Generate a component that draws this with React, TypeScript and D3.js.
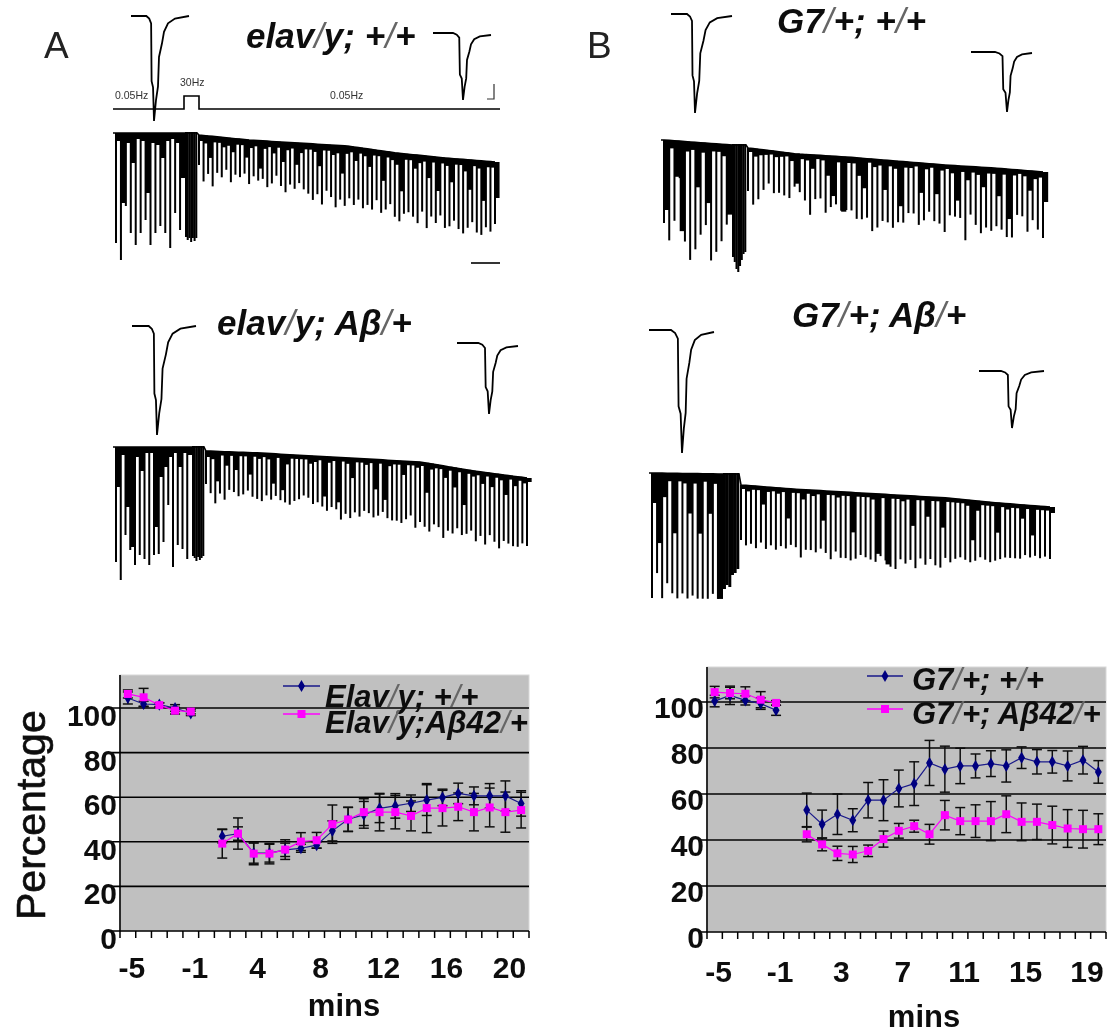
import { useEffect, useRef } from "react";
import * as d3 from "d3";

// bottom charts
const leftMins = [-5, -4, -3, -2, -1, 0, 1, 2, 3, 4, 5, 6, 7, 8, 9, 10, 11, 12, 13, 14, 15, 16, 17, 18, 19, 20];
const leftLabels = ["-5", "-1", "4", "8", "12", "16", "20"];
const elavCtrl = [104.5, 101.8, 101.5, 100, 97.6, null, 42.5, 43.7, 34.9, 34.9, 36.4, 37.1, 38.5, 44.9, 50.1, 52.1, 55, 56.1, 57.3, 58.7, 59.9, 61.7, 60.6, 60.6, 60.6, 57.2];
const elavCtrlErr = [2.7, 1.2, 0.8, 1.5, 1, 0, 3, 3, 4.5, 4, 3, 1.8, 1.4, 4.5, 5.4, 6, 6.4, 5.5, 3.7, 6.9, 3.7, 4.6, 4, 5.5, 6.7, 5.7];
const elavAb = [106.3, 104.8, 101.3, 98.8, 98.4, null, 39.2, 43.7, 34.7, 34.7, 36.5, 40.1, 40.7, 47.9, 50, 53.3, 53.3, 53.3, 51.6, 55.1, 55.1, 55.7, 53.3, 55.4, 53.3, 54.2];
const elavAbErr = [1.8, 4, 1, 1.5, 1, 0, 6.5, 7, 5, 4.6, 4.4, 4, 3.5, 8.6, 5.4, 6, 8.4, 7.5, 6.7, 11, 8, 6.2, 8.4, 8.7, 9, 8];

const rightMins = [-5, -4, -3, -2, -1, 0, 1, 2, 3, 4, 5, 6, 7, 8, 9, 10, 11, 12, 13, 14, 15, 16, 17, 18, 19, 20];
const rightLabels = ["-5", "-1", "3", "7", "11", "15", "19"];
const g7Ctrl = [100.4, 102.9, 100.7, 99.3, 96.4, null, 53, 46.9, 51.2, 48.6, 57.3, 57.3, 62.4, 64.5, 73.5, 70.8, 72.2, 72.2, 73.2, 72.2, 75.8, 74, 74, 72.2, 74.7, 69.6];
const g7CtrlErr = [2.5, 4, 2, 2.5, 2.2, 0, 7.4, 6.1, 8.8, 5, 7.7, 8.9, 8, 9.5, 9.8, 10, 7.7, 5.2, 5.6, 7, 4.7, 5.3, 4.9, 6.5, 6, 4.9];
const g7Ab = [104.3, 103.9, 103.6, 101, 99.6, null, 42.5, 38.1, 34.2, 33.7, 35.3, 40.4, 44, 46, 42.5, 50.8, 48.2, 48.2, 48.2, 51.2, 47.9, 47.9, 46.5, 45, 44.7, 44.7];
const g7AbErr = [2.5, 2.5, 3, 3.5, 1, 0, 3.3, 2.8, 3.1, 3.5, 2.5, 3.5, 3.2, 2.6, 4.3, 6.4, 5.9, 7.1, 8.5, 8, 8.2, 7.7, 8.2, 8.2, 8.2, 6.7];

// spike trains, amplitude of each evoked current
const a1Pre = [110, 127, 73, 100, 112, 100, 87, 112, 100, 93, 100, 115, 80, 97];
const a1PreFill = [8, 70, 10, 30, 6, 8, 60, 10, 12, 25, 8, 6, 10, 45];
const a1Tet = [105, 108, 106, 110, 106, 109, 106];
const a1Post = [30, 46, 38, 50, 36, 40, 32, 44, 36, 38, 34, 44, 36, 40, 38, 46, 42, 34, 44, 50, 42, 46, 40, 46, 50, 56, 50, 60, 46, 52, 62, 54, 60, 52, 58, 52, 60, 56, 60, 50, 62, 58, 52, 64, 68, 60, 58, 62, 68, 56, 72, 60, 66, 58, 70, 68, 62, 70, 74, 68, 62, 72, 74, 66, 70, 62];
const a1PostFill = [6, 8, 22, 6, 6, 10, 8, 14, 6, 6, 18, 8, 6, 28, 8, 6, 12, 6, 20, 8, 6, 22, 10, 6, 6, 8, 22, 6, 6, 10, 8, 28, 8, 6, 14, 6, 8, 18, 6, 6, 30, 6, 8, 12, 38, 6, 6, 14, 8, 6, 22, 6, 34, 6, 8, 24, 6, 6, 12, 30, 6, 8, 40, 6, 6, 36];

const b1Pre = [83, 100, 80, 37, 100, 118, 107, 92, 82, 117, 108, 97, 80];
const b1PreFill = [70, 8, 36, 90, 10, 8, 45, 10, 60, 8, 8, 12, 70];
const b1Tet = [113, 118, 125, 128, 122, 116, 110, 108];
const b1Post = [43, 56, 50, 40, 33, 42, 41, 43, 45, 33, 38, 46, 60, 44, 43, 57, 51, 48, 54, 53, 53, 61, 61, 59, 72, 68, 61, 62, 67, 61, 61, 51, 51, 62, 57, 48, 57, 59, 67, 50, 51, 52, 74, 48, 58, 66, 60, 63, 58, 61, 68, 68, 45, 46, 61, 49, 58, 66];
const b1PostFill = [4, 8, 6, 5, 4, 6, 5, 4, 8, 30, 5, 6, 14, 4, 5, 20, 40, 6, 55, 6, 6, 18, 30, 4, 8, 6, 30, 6, 8, 45, 6, 6, 4, 30, 6, 4, 30, 6, 4, 8, 35, 6, 14, 6, 8, 20, 6, 6, 28, 6, 50, 6, 4, 6, 20, 8, 6, 30];

const a2Pre = [115, 133, 88, 103, 118, 108, 112, 118, 108, 107, 95, 58, 120, 98, 102, 112];
const a2PreFill = [40, 8, 60, 100, 10, 24, 6, 6, 80, 30, 20, 10, 6, 20, 6, 8];
const a2Tet = [110, 112, 115, 111, 114, 112, 110];
const a2Post = [33, 42, 52, 42, 48, 38, 40, 44, 42, 38, 44, 46, 48, 42, 46, 42, 46, 48, 50, 46, 44, 40, 42, 48, 46, 50, 54, 50, 52, 62, 56, 60, 54, 58, 52, 54, 58, 56, 52, 58, 60, 60, 62, 58, 54, 66, 60, 64, 68, 60, 62, 72, 64, 66, 60, 66, 64, 60, 70, 64, 72, 62, 68, 74, 66, 68, 70, 70, 66, 68];
const a2PostFill = [6, 8, 30, 4, 14, 4, 18, 4, 4, 22, 4, 6, 4, 6, 30, 4, 36, 10, 4, 4, 4, 4, 8, 6, 4, 40, 6, 4, 45, 4, 6, 20, 4, 4, 6, 4, 30, 4, 40, 6, 4, 4, 14, 4, 4, 6, 4, 30, 6, 4, 4, 12, 4, 20, 4, 36, 4, 6, 4, 12, 4, 14, 4, 6, 20, 4, 10, 4, 6, 4];

const b2Pre = [125, 100, 125, 110, 120, 125, 120, 125, 122, 125, 125, 125, 120, 125];
const b2PreFill = [30, 70, 24, 8, 60, 8, 10, 40, 10, 60, 8, 40, 10, 125];
const b2Tet = [116, 112, 114, 102, 100, 96];
const b2Post = [55, 60, 58, 62, 56, 62, 58, 62, 58, 60, 56, 58, 68, 60, 60, 62, 58, 62, 68, 60, 66, 66, 68, 66, 62, 64, 66, 68, 62, 66, 72, 74, 64, 68, 64, 72, 62, 68, 62, 68, 70, 60, 64, 60, 58, 60, 62, 60, 56, 58, 60, 58, 56, 54, 54, 54, 54, 50, 52, 50, 52, 50, 52];
const b2PostFill = [4, 6, 4, 4, 18, 5, 4, 6, 4, 30, 4, 4, 10, 4, 6, 4, 30, 4, 4, 6, 4, 4, 40, 4, 4, 4, 6, 60, 4, 70, 4, 4, 6, 4, 30, 4, 4, 20, 4, 4, 30, 4, 4, 4, 4, 6, 40, 10, 4, 4, 4, 30, 4, 6, 4, 4, 14, 4, 30, 4, 4, 4, 6];

// single EPSC, percent of its peak against time
const epscTime = [0, 16, 19, 21, 21.5, 23, 24, 26, 28, 29, 32, 34, 38, 45, 59];
const epscAmp = [0, 0, 2.5, 7, 62, 68, 100, 80, 67, 39, 26, 15, 7, 2.5, 0];

const stimLabels = ["0.05Hz", "30Hz", "0.05Hz"];

const FONT = "'Liberation Sans', Arial, sans-serif";

function addSlashText(sel, str, x, y, size) {
  // the slashes came out thin and grey in the original scan
  const t = sel.append("text")
    .attr("x", x).attr("y", y)
    .attr("font-family", FONT)
    .attr("font-size", size)
    .attr("font-style", "italic")
    .attr("font-weight", 700)
    .attr("fill", "#111");
  str.split(/(\/)/).forEach((part) => {
    const s = t.append("tspan").text(part);
    if (part === "/") s.attr("fill", "#666").attr("font-weight", 400);
  });
}

function drawEpsc(svg, x0, x1, tipX, base, tipY, endY) {
  const x = d3.scaleLinear().domain([0, 24, 59]).range([x0, tipX, x1]);
  const y = d3.scaleLinear().domain([0, 100]).range([base, tipY]);
  const end = endY - base;
  const line = d3.line()
    .x((_, i) => x(epscTime[i]))
    .y((d, i) => y(d) + (i > 6 ? (end * (i - 6)) / 8 : 0));
  svg.append("path")
    .attr("d", line(epscAmp))
    .attr("fill", "none")
    .attr("stroke", "#000")
    .attr("stroke-width", 1.8);
}

function drawTrain(svg, o) {
  const g = svg.append("g").attr("fill", "#000");
  const preX = d3.scaleLinear().domain([0, o.pre.length]).range([o.x0 + 3, o.tet0]);
  const preY = d3.scaleLinear().domain([0, o.pre.length]).range(o.preBase);
  const tetX = d3.scaleLinear().domain([0, o.tet.length]).range([o.tet0, o.tet1]);
  const postX = d3.scaleLinear().domain([0, o.post.length - 1]).range([o.tet1 + 2, o.x1 - 1]);
  const postY = d3.scaleLinear()
    .domain(o.drift.map((_, i) => (i * (o.post.length - 1)) / (o.drift.length - 1)))
    .range(o.drift);

  const spikes = (data, fills, xf, yf, w) => {
    g.selectAll(null).data(data).join("rect")
      .attr("x", (_, i) => xf(i) - w / 2)
      .attr("y", (_, i) => yf(i))
      .attr("width", w)
      .attr("height", (d) => d);
    if (fills) {
      g.selectAll(null).data(fills).join("rect")
        .attr("x", (_, i) => xf(i))
        .attr("y", (_, i) => yf(i))
        .attr("width", (_, i) => xf(i + 1) - xf(i))
        .attr("height", (d) => d);
    }
  };
  spikes(o.pre, o.preFill, preX, preY, 2);
  const tetBase = o.preBase[1] - 1;
  g.selectAll(null).data(o.tet).join("rect")
    .attr("x", (_, i) => tetX(i))
    .attr("y", tetBase)
    .attr("width", (_, i) => tetX(i + 1) - tetX(i) + 0.3)
    .attr("height", (d) => d);
  spikes(o.post, o.postFill, postX, postY, 2);

  // top edge of the trace
  const top = o.pre.map((_, i) => [preX(i), preY(i)])
    .concat([[o.tet0, o.preBase[1]], [o.tet1, o.preBase[1]]])
    .concat(o.post.map((_, i) => [postX(i), postY(i)]));
  svg.append("path")
    .attr("d", d3.line()([[o.x0, o.preBase[0]], ...top]))
    .attr("fill", "none").attr("stroke", "#000").attr("stroke-width", 1.6);
}

function drawChart(svg, o) {
  const g = svg.append("g");
  const x = d3.scaleBand().domain(o.mins.map(String)).range([o.left, o.right]).padding(0);
  const y = d3.scaleLinear().domain([0, 100]).range([o.zero, o.hundred]);
  const cx = (i) => x(String(o.mins[i])) + x.bandwidth() / 2;

  g.append("rect")
    .attr("x", o.left).attr("y", o.top)
    .attr("width", o.right - o.left).attr("height", o.zero - o.top)
    .attr("fill", "#c0c0c0").attr("stroke", "#d8d8d8");

  const gridVals = [0, 20, 40, 60, 80, 100];
  g.selectAll(null).data(gridVals).join("line")
    .attr("x1", o.left - 8).attr("x2", o.right)
    .attr("y1", (d) => y(d)).attr("y2", (d) => y(d))
    .attr("stroke", "#000").attr("stroke-width", 1.6);
  g.selectAll(null).data(gridVals).join("text")
    .attr("x", o.left - 3)
    .attr("y", (d) => y(d) + o.labelDrop)
    .attr("text-anchor", "end")
    .attr("font-family", FONT).attr("font-size", 30).attr("font-weight", 700)
    .attr("fill", "#111")
    .text((d) => d);

  g.append("line")
    .attr("x1", o.left).attr("x2", o.left).attr("y1", o.top).attr("y2", o.zero)
    .attr("stroke", "#000").attr("stroke-width", 1.6);
  const tickX = d3.range(o.mins.length + 1).map((i) => o.left + i * x.bandwidth());
  g.selectAll(null).data(tickX).join("line")
    .attr("x1", (d) => d).attr("x2", (d) => d)
    .attr("y1", o.zero).attr("y2", o.zero + 7)
    .attr("stroke", "#000").attr("stroke-width", 1.5);
  g.selectAll(null).data(o.labels).join("text")
    .attr("x", (_, i) => cx(i * 4) + 4)
    .attr("y", o.tickBase)
    .attr("text-anchor", "middle")
    .attr("font-family", FONT).attr("font-size", 30).attr("font-weight", 700)
    .attr("fill", "#111")
    .text((d) => d);

  g.append("text")
    .attr("x", o.minsX).attr("y", o.minsY)
    .attr("text-anchor", "middle")
    .attr("font-family", FONT).attr("font-size", 31).attr("font-weight", 700)
    .attr("fill", "#111")
    .text("mins");

  const errorBars = (vals, errs) => {
    const pts = vals.map((v, i) => ({ v, e: errs[i], i })).filter((d) => d.v !== null);
    const eg = g.append("g").attr("stroke", "#111").attr("stroke-width", 1.5);
    eg.selectAll(null).data(pts).join("line")
      .attr("x1", (d) => cx(d.i)).attr("x2", (d) => cx(d.i))
      .attr("y1", (d) => y(d.v - d.e)).attr("y2", (d) => y(d.v + d.e));
    [-1, 1].forEach((sign) => {
      eg.selectAll(null).data(pts).join("line")
        .attr("x1", (d) => cx(d.i) - 5).attr("x2", (d) => cx(d.i) + 5)
        .attr("y1", (d) => y(d.v + sign * d.e)).attr("y2", (d) => y(d.v + sign * d.e));
    });
  };
  errorBars(o.ctrl, o.ctrlErr);
  errorBars(o.ab, o.abErr);

  const line = d3.line()
    .defined((d) => d !== null)
    .x((_, i) => cx(i))
    .y((d) => y(d));
  const diamond = d3.symbol().type(d3.symbolDiamond).size(42);

  g.append("path").attr("d", line(o.ctrl)).attr("fill", "none")
    .attr("stroke", "#1a1a8a").attr("stroke-width", 1.2);
  g.selectAll(null).data(o.ctrl.map((v, i) => ({ v, i })).filter((d) => d.v !== null)).join("path")
    .attr("d", diamond)
    .attr("transform", (d) => `translate(${cx(d.i)},${y(d.v)})`)
    .attr("fill", "#000080");

  g.append("path").attr("d", line(o.ab)).attr("fill", "none")
    .attr("stroke", "#ff00ff").attr("stroke-width", 1.2);
  g.selectAll(null).data(o.ab.map((v, i) => ({ v, i })).filter((d) => d.v !== null)).join("rect")
    .attr("x", (d) => cx(d.i) - 4).attr("y", (d) => y(d.v) - 4)
    .attr("width", 8).attr("height", 8)
    .attr("fill", "#ff00ff");

  // legend
  g.append("line").attr("x1", o.legX0).attr("x2", o.legX1).attr("y1", o.leg1Y).attr("y2", o.leg1Y)
    .attr("stroke", "#1a1a8a").attr("stroke-width", 1.5);
  g.append("path").attr("d", diamond)
    .attr("transform", `translate(${(o.legX0 + o.legX1) / 2},${o.leg1Y})`).attr("fill", "#000080");
  g.append("line").attr("x1", o.legX0).attr("x2", o.legX1).attr("y1", o.leg2Y).attr("y2", o.leg2Y)
    .attr("stroke", "#ff00ff").attr("stroke-width", 1.5);
  g.append("rect").attr("x", (o.legX0 + o.legX1) / 2 - 4).attr("y", o.leg2Y - 4)
    .attr("width", 8).attr("height", 8).attr("fill", "#ff00ff");
  addSlashText(g, o.name1, o.legText, o.text1Y, 31);
  addSlashText(g, o.name2, o.legText, o.text2Y, 31);
}

export default function App() {
  const ref = useRef(null);

  useEffect(() => {
    const root = d3.select(ref.current);
    root.selectAll("*").remove();
    root.append("defs").append("filter").attr("id", "scan")
      .attr("x", 0).attr("y", 0).attr("width", 1110).attr("height", 1034)
      .attr("filterUnits", "userSpaceOnUse")
      .append("feGaussianBlur").attr("stdDeviation", 0.7);
    const svg = root.append("g").attr("filter", "url(#scan)");

    // panel letters
    [["A", 44], ["B", 587]].forEach(([t, x]) => {
      svg.append("text").attr("x", x).attr("y", 58)
        .attr("font-family", FONT).attr("font-size", 37).attr("fill", "#222").text(t);
    });

    addSlashText(svg, "elav/y; +/+", 246, 48, 35);
    addSlashText(svg, "elav/y; Aβ/+", 217, 335, 35);
    addSlashText(svg, "G7/+; +/+", 777, 33, 35);
    addSlashText(svg, "G7/+; Aβ/+", 792, 327, 35);

    drawEpsc(svg, 131, 189, 154, 16, 121, 16);
    drawEpsc(svg, 433, 491, 463, 33, 100, 35);
    drawEpsc(svg, 671, 732, 695, 14, 113, 16);
    drawEpsc(svg, 971, 1032, 1007, 52, 112, 53);
    drawEpsc(svg, 132, 196, 157, 326, 435, 326);
    drawEpsc(svg, 457, 518, 489, 343, 414, 346);
    drawEpsc(svg, 649, 714, 682, 330, 453, 332);
    drawEpsc(svg, 979, 1044, 1012, 371, 428, 371);

    // stimulation protocol
    svg.append("path")
      .attr("d", d3.line()([[113, 109], [184, 109], [184, 96], [199, 96], [199, 109], [500, 109]]))
      .attr("fill", "none").attr("stroke", "#000").attr("stroke-width", 1.6);
    [[115, 99], [180, 86], [330, 99]].forEach(([x, y], i) => {
      svg.append("text").attr("x", x).attr("y", y)
        .attr("font-family", FONT).attr("font-size", 10.5).attr("fill", "#333").text(stimLabels[i]);
    });
    svg.append("path")
      .attr("d", d3.line()([[494, 84], [494, 99], [487, 99]]))
      .attr("fill", "none").attr("stroke", "#333").attr("stroke-width", 1.2);
    svg.append("path")
      .attr("d", d3.line()([[471, 263], [500, 263]]))
      .attr("fill", "none").attr("stroke", "#000").attr("stroke-width", 1.6);

    drawTrain(svg, { x0: 113, tet0: 185, tet1: 197, x1: 496, preBase: [133, 133], drift: [135, 140, 143, 146, 153, 158, 162], pre: a1Pre, preFill: a1PreFill, tet: a1Tet, post: a1Post, postFill: a1PostFill });
    drawTrain(svg, { x0: 661, tet0: 732, tet1: 746, x1: 1044, preBase: [140, 145], drift: [148, 154, 157, 161, 165, 168, 172], pre: b1Pre, preFill: b1PreFill, tet: b1Tet, post: b1Post, postFill: b1PostFill });
    drawTrain(svg, { x0: 113, tet0: 192, tet1: 204, x1: 528, preBase: [447, 447], drift: [451, 453, 456, 459, 462, 471, 478], pre: a2Pre, preFill: a2PreFill, tet: a2Tet, post: a2Post, postFill: a2PostFill });
    drawTrain(svg, { x0: 649, tet0: 723, tet1: 739, x1: 1051, preBase: [473, 474], drift: [485, 489, 492, 495, 498, 503, 507], pre: b2Pre, preFill: b2PreFill, tet: b2Tet, post: b2Post, postFill: b2PostFill });

    drawChart(svg, {
      left: 120, right: 529, top: 675, zero: 931, hundred: 708, labelDrop: 18, tickBase: 978,
      minsX: 344, minsY: 1016, mins: leftMins, labels: leftLabels,
      ctrl: elavCtrl, ctrlErr: elavCtrlErr, ab: elavAb, abErr: elavAbErr,
      legX0: 283, legX1: 320, leg1Y: 686, leg2Y: 714, legText: 325, text1Y: 707, text2Y: 733,
      name1: "Elav/y; +/+", name2: "Elav/y;Aβ42/+",
    });
    drawChart(svg, {
      left: 707, right: 1106, top: 667, zero: 932, hundred: 702, labelDrop: 16, tickBase: 982,
      minsX: 924, minsY: 1027, mins: rightMins, labels: rightLabels,
      ctrl: g7Ctrl, ctrlErr: g7CtrlErr, ab: g7Ab, abErr: g7AbErr,
      legX0: 867, legX1: 903, leg1Y: 676, leg2Y: 709, legText: 912, text1Y: 690, text2Y: 724,
      name1: "G7/+; +/+", name2: "G7/+; Aβ42/+",
    });

    svg.append("text")
      .attr("transform", "translate(45,920) rotate(-90)")
      .attr("font-family", FONT).attr("font-size", 41).attr("fill", "#111")
      .attr("stroke", "#111").attr("stroke-width", 0.7)
      .text("Percentage");
  }, []);

  return (
    <div style={{ position: "absolute", left: 0, top: 0 }}>
      <svg ref={ref} width={1110} height={1034} style={{ display: "block", background: "#fff" }} />
    </div>
  );
}
